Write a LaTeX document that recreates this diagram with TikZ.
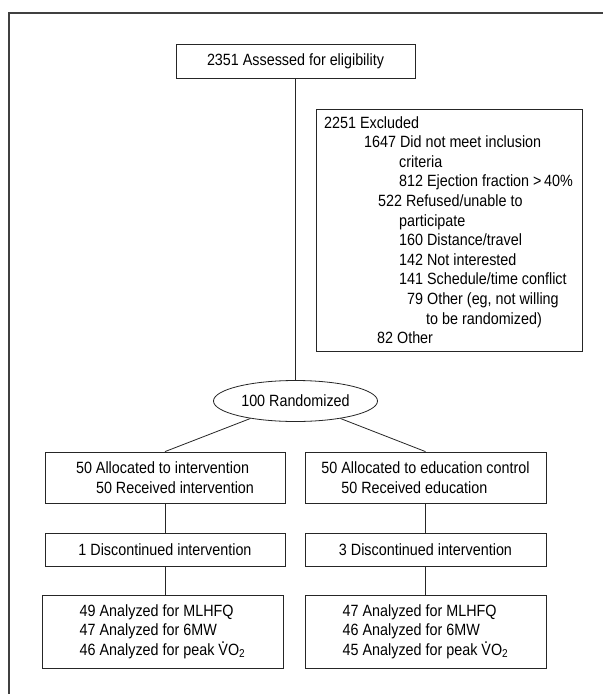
\documentclass[tikz,border=0pt]{standalone}
\usepackage{fontspec}
\setmainfont{Liberation Sans}[FakeStretch=0.88]
\usetikzlibrary{shapes.geometric}
\newcommand\vdotV{\leavevmode\rlap{\kern0.17em\raisebox{0.7em}{.}}V}
\begin{document}
\begin{tikzpicture}[x=1pt,y=-1pt,
  font=\fontsize{16.3}{19.6}\selectfont,
  box/.style={draw=black!85, line width=0.8pt, rectangle, inner sep=0pt, text=black},
  txt/.style={anchor=base west, inner sep=0pt, text=black},
  conn/.style={draw=black!85, line width=0.8pt}]
\useasboundingbox (0,0) rectangle (603,694);
\fill[white] (0,0) rectangle (603,694);
\draw[black!75, line width=1.4pt] (9,694) -- (9,13) -- (603,13);

\node[box, minimum width=239pt, minimum height=34pt] (assess) at (295.5,61) {2351 Assessed for eligibility};
\node[box, minimum width=266pt, minimum height=242pt] (excl) at (449,230) {};
\node[txt] (ex1) at (324,128) {2251 Excluded};
\node[txt] (ex2) at (364,147.6) {1647 Did not meet inclusion};
\node[txt] (ex3) at (399,167.2) {criteria};
\node[txt] (ex4) at (399,186.8) {812 Ejection fraction >\,40\%};
\node[txt] (ex5) at (378,206.4) {522 Refused/unable to};
\node[txt] (ex6) at (399,226) {participate};
\node[txt] (ex7) at (399,245.6) {160 Distance/travel};
\node[txt] (ex8) at (399,265.2) {142 Not interested};
\node[txt] (ex9) at (399,284.8) {141 Schedule/time conflict};
\node[txt] (ex10) at (407,304.4) {79 Other (eg, not willing};
\node[txt] (ex11) at (426,324) {to be randomized)};
\node[txt] (ex12) at (377,343.6) {82 Other};

\node[draw=black!85, line width=0.8pt, ellipse, minimum width=164pt, minimum height=41pt, inner sep=0pt, text=black] (rand) at (295.5,401) {100 Randomized};

\node[box, minimum width=240pt, minimum height=51pt, align=left] (allocL) at (165,477.5) {50 Allocated to intervention\\\hspace*{20pt}50 Received intervention};
\node[box, minimum width=241pt, minimum height=51pt, align=left] (allocR) at (425.5,477.5) {50 Allocated to education control\\\hspace*{20pt}50 Received education};

\node[box, minimum width=240pt, minimum height=33pt] (discL) at (165,549.5) {1 Discontinued intervention};
\node[box, minimum width=241pt, minimum height=33pt] (discR) at (425.5,549.5) {3 Discontinued intervention};

\node[box, minimum width=241pt, minimum height=73pt, align=left] (analL) at (162.5,631.5) {49 Analyzed for MLHFQ\\47 Analyzed for 6MW\\46 Analyzed for peak \vdotV O\textsubscript{2}};
\node[box, minimum width=241pt, minimum height=73pt, align=left] (analR) at (425.5,631.5) {47 Analyzed for MLHFQ\\46 Analyzed for 6MW\\45 Analyzed for peak \vdotV O\textsubscript{2}};

\draw[conn] (assess.south) -- (rand.north);
\draw[conn] (rand) -- (allocL.north);
\draw[conn] (rand) -- (allocR.north);
\draw[conn] (allocL.south) -- (discL.north);
\draw[conn] (allocR.south) -- (discR.north);
\draw[conn] (discL.south) -- (discL.south |- analL.north);
\draw[conn] (discR.south) -- (analR.north);
\end{tikzpicture}
\end{document}
